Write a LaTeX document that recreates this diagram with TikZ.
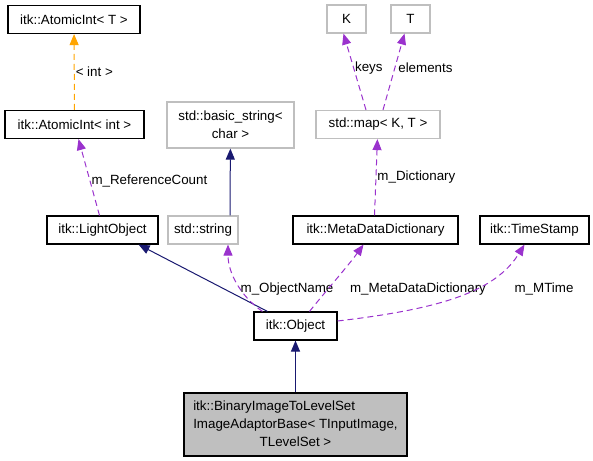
\documentclass[tikz,border=0pt]{standalone}
\usepackage{fontspec}
\setmainfont{Liberation Sans}
\usetikzlibrary{arrows.meta,positioning}
\definecolor{edgenavy}{HTML}{191970}
\definecolor{usepurple}{HTML}{9A32CD}
\definecolor{tmplorange}{HTML}{FFA500}
\definecolor{boxgray}{HTML}{BFBFBF}

\begin{document}
\begin{tikzpicture}[x=1bp,y=-1bp,font=\fontsize{13.4}{18}\selectfont,
  cls/.style={draw=black,line width=1.1bp,inner sep=2bp,minimum height=28bp},
  ext/.style={draw=boxgray,line width=1.2bp,inner sep=2bp,minimum height=28bp},
  inherit/.style={-{Triangle[length=11bp,width=9bp,fill=edgenavy]},draw=edgenavy,line width=1bp},
  usage/.style={-{Triangle[length=11bp,width=9bp,fill=usepurple]},draw=usepurple,dash pattern=on 6bp off 4bp,line width=1bp},
  tmpl/.style={-{Triangle[length=11bp,width=9bp,fill=tmplorange]},draw=tmplorange,dash pattern=on 6bp off 4bp,line width=1bp},
  lbl/.style={fill=none,draw=none,inner sep=1bp}]
  \useasboundingbox (0,0) rectangle (593,461);
  % classes
  \node[cls,minimum width=132bp] (atomT) at (74,19.5) {itk::AtomicInt< T >};
  \node[cls,minimum width=139bp] (atomI) at (74.5,124.5) {itk::AtomicInt< int >};
  \node[ext,minimum width=127bp,minimum height=46bp,align=center] (bstr) at (230.5,125)
    {std::basic\_string<\\char >};
  \node[cls,minimum width=111bp] (light) at (102.5,230) {itk::LightObject};
  \node[ext,minimum width=70bp] (str) at (203,230) {std::string};
  \node[cls,minimum width=165bp] (meta) at (375.5,230) {itk::MetaDataDictionary};
  \node[cls,minimum width=109bp] (stamp) at (534.5,230) {itk::TimeStamp};
  \node[ext,minimum width=39bp] (keyK) at (346.5,19) {K};
  \node[ext,minimum width=39bp] (valT) at (410.5,19) {T};
  \node[ext,minimum width=124bp] (map) at (378,124.5) {std::map< K, T >};
  \node[cls,minimum width=83bp] (obj) at (295.5,326) {itk::Object};
  \node[cls,fill=boxgray,minimum width=223bp,minimum height=63bp,inner sep=4bp] (main) at (295.5,424.5)
    {\begin{tabular}{@{}l@{}}itk::BinaryImageToLevelSet\\ImageAdaptorBase< TInputImage,\\
     \multicolumn{1}{@{}c@{}}{TLevelSet >}\end{tabular}};
  % edges
  \draw[tmpl] (atomI) -- node[lbl,right] {< int >} (atomT);
  \draw[usage] ([xshift=-3bp]light.north) -- node[lbl,right,pos=0.45] {m\_ReferenceCount} ([xshift=4bp]atomI.south);
  \draw[inherit] ([xshift=-0.5bp]bstr.south |- str.north) -- (bstr);
  \draw[usage] ([xshift=-12bp]map.north) -- node[lbl,right,pos=0.55] {keys} ([xshift=-3bp]keyK.south);
  \draw[usage] ([xshift=5bp]map.north) -- node[lbl,right,pos=0.55,xshift=2bp] {elements} ([xshift=-6bp]valT.south);
  \draw[usage] ([xshift=-1bp]meta.north) -- node[lbl,right,pos=0.5] {m\_Dictionary} (map);
  \draw[inherit] ([xshift=-28bp]obj.north) -- ([xshift=-20bp]light.south east);
  \draw[usage] ([xshift=-33bp]obj.north) .. controls (240,296) and (228,272) .. ([xshift=25bp]str.south);
  \node[lbl] (lblname) at (287,289) {m\_ObjectName};
  \draw[usage] ([xshift=14bp]obj.north) .. controls (325,292) and (348,266) .. ([xshift=-12bp]meta.south);
  \node[lbl] (lblmeta) at (418,289) {m\_MetaDataDictionary};
  \draw[usage] ([yshift=5bp]obj.east) .. controls (440,309) and (495,292) .. ([xshift=-10bp]stamp.south);
  \node[lbl] (lbltime) at (544,289) {m\_MTime};
  \draw[inherit] (main) -- (obj);
\end{tikzpicture}
\end{document}
